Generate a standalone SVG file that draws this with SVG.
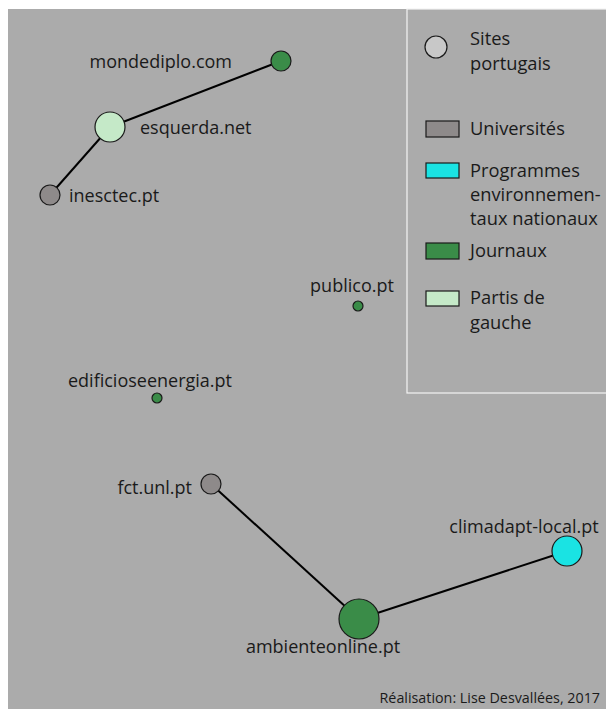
<svg xmlns="http://www.w3.org/2000/svg" width="606" height="709" viewBox="0 0 606 709">
<style>
text{font-family:"Open Sans","Liberation Sans",sans-serif;font-size:18px;fill:#1a1a1a}
.lg{font-size:18.3px}
.n{stroke:#1a1a1a;stroke-width:1.2}
.e{stroke:#000;stroke-width:2;fill:none}
.uni{fill:#8e8a8a}.prog{fill:#1ae3e3}.jour{fill:#3a8c48}.part{fill:#c5e9c8}.site{fill:#c8c8c8}
.foot{font-size:14.3px}
</style>
<rect x="0" y="0" width="606" height="709" fill="#ffffff"/>
<rect x="8" y="9" width="598" height="700" fill="#ababab"/>
<g id="legend">
<rect x="407" y="9" width="210" height="384" fill="none" stroke="#f4f4f4" stroke-width="1.2"/>
<circle class="n site" cx="436" cy="47" r="11"/>
<text class="lg" x="470" y="45">Sites</text>
<text class="lg" x="470" y="70">portugais</text>
<rect class="n uni" x="426" y="121" width="33" height="16"/>
<text class="lg" x="470" y="135">Universités</text>
<rect class="n prog" x="426" y="163" width="33" height="15"/>
<text class="lg" x="470" y="177">Programmes</text>
<text class="lg" x="470" y="201">environnemen-</text>
<text class="lg" x="470" y="225">taux nationaux</text>
<rect class="n jour" x="426" y="243" width="33" height="16"/>
<text class="lg" x="470" y="257">Journaux</text>
<rect class="n part" x="426" y="291" width="33" height="15"/>
<text class="lg" x="470" y="304">Partis de</text>
<text class="lg" x="470" y="329">gauche</text>
</g>
<g id="connectors">
<line class="e" x1="281" y1="61" x2="110" y2="127"/>
<line class="e" x1="110" y1="127" x2="50" y2="195"/>
<line class="e" x1="211" y1="484" x2="359" y2="619"/>
<line class="e" x1="359" y1="619" x2="567" y2="551"/>
</g>
<g id="mondediplo"><circle class="n jour" cx="281" cy="61" r="10"/><text x="232" y="68" text-anchor="end">mondediplo.com</text></g>
<g id="esquerda"><circle class="n part" cx="110" cy="127" r="15"/><text x="140" y="134">esquerda.net</text></g>
<g id="inesctec"><circle class="n uni" cx="50" cy="195" r="10"/><text x="69" y="202">inesctec.pt</text></g>
<g id="publico"><circle class="n jour" cx="358" cy="306" r="5"/><text x="352" y="292" text-anchor="middle">publico.pt</text></g>
<g id="edificioseenergia"><circle class="n jour" cx="157" cy="398" r="5"/><text x="150" y="387" text-anchor="middle">edificioseenergia.pt</text></g>
<g id="fctunl"><circle class="n uni" cx="211" cy="484" r="10"/><text x="192" y="494" text-anchor="end">fct.unl.pt</text></g>
<g id="ambienteonline"><circle class="n jour" cx="359" cy="619" r="20"/><text x="323" y="653" text-anchor="middle">ambienteonline.pt</text></g>
<g id="climadapt"><circle class="n prog" cx="567" cy="551" r="15"/><text x="524" y="533" text-anchor="middle">climadapt-local.pt</text></g>
<text class="foot" x="600" y="703" text-anchor="end">Réalisation: Lise Desvallées, 2017</text>
</svg>
